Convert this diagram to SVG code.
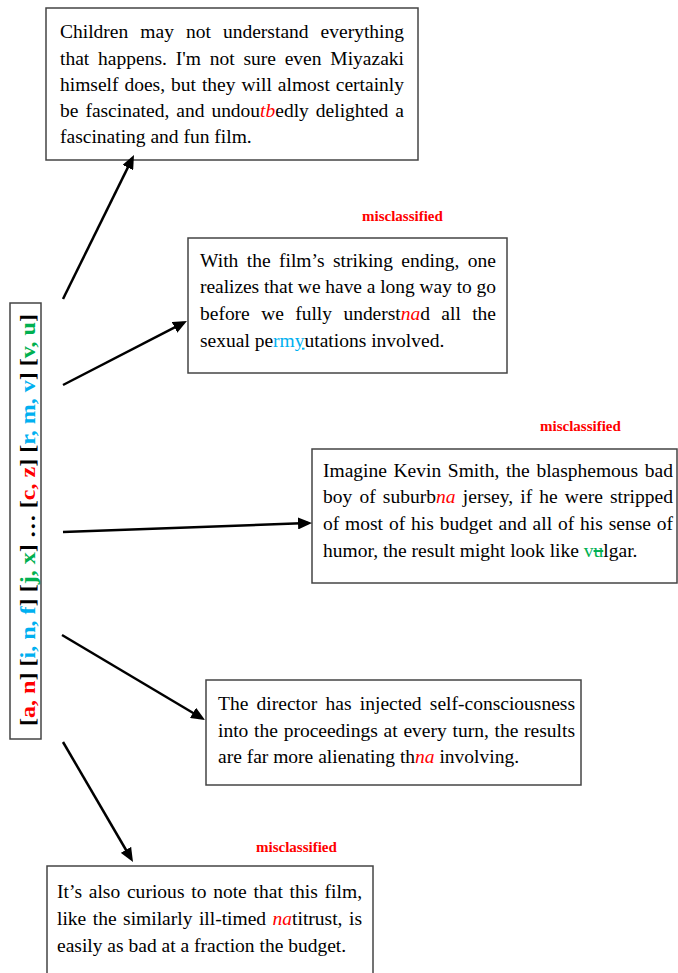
<svg xmlns="http://www.w3.org/2000/svg" width="678" height="973" viewBox="0 0 678 973">
<style>
.box{fill:#fff;stroke:#444;stroke-width:1.5}
.t{font-family:"Liberation Serif","Times New Roman",serif;font-size:19.5px;fill:#000}
.r{fill:#ff0000}
.b{fill:#00b0f0}
.g{fill:#00b050}
.it{font-style:italic}
.mis{font-family:"Liberation Serif","Times New Roman",serif;font-size:15px;font-weight:bold;fill:#ff0000}
.side{font-family:"Liberation Serif","Times New Roman",serif;font-size:21px;font-weight:bold;fill:#000}
.conn{stroke:#000;stroke-width:2.5;fill:none;marker-end:url(#ah)}
</style>
<defs>
<marker id="ah" markerUnits="userSpaceOnUse" markerWidth="15" markerHeight="12" refX="10" refY="6" orient="auto">
<path d="M0,0 L14,6 L0,12 z" fill="#000"/>
</marker>
</defs>

<g id="node-left">
<rect class="box" x="10" y="303" width="31" height="436"/>
<text class="side" transform="translate(35,726) rotate(-90)" x="0" y="0" textLength="412" lengthAdjust="spacingAndGlyphs">[<tspan class="r">a, n</tspan>] [<tspan class="b">i, n, f</tspan>] [<tspan class="g">j, x</tspan>] … [<tspan class="r">c, z</tspan>] [<tspan class="b">r, m, v</tspan>] [<tspan class="g">v, u</tspan>]</text>
</g>

<g id="node-1">
<rect class="box" x="46" y="8" width="372" height="152"/>
<text class="t" x="60" y="38.3" textLength="344" word-spacing="7.2">Children may not understand everything</text>
<text class="t" x="60" y="64.5" textLength="344" word-spacing="3.9">that happens. I'm not sure even Miyazaki</text>
<text class="t" x="60" y="90.8" textLength="344" word-spacing="1.1">himself does, but they will almost certainly</text>
<text class="t" x="60" y="117" textLength="344" word-spacing="2.1">be fascinated, and undou<tspan class="r it">tb</tspan>edly delighted a</text>
<text class="t" x="60" y="143.3">fascinating and fun film.</text>
</g>

<g id="node-2">
<text class="mis" x="362" y="221">misclassified</text>
<rect class="box" x="188" y="238" width="319" height="135"/>
<text class="t" x="200" y="266.7" textLength="296" word-spacing="3.3">With the film’s striking ending, one</text>
<text class="t" x="200" y="293.3" textLength="296">realizes that we have a long way to go</text>
<text class="t" x="200" y="320" textLength="296" word-spacing="6.5">before we fully underst<tspan class="r it">na</tspan>d all the</text>
<text class="t" x="200" y="346.7">sexual pe<tspan class="b">rm<tspan style="text-decoration:underline">y</tspan></tspan>utations involved.</text>
</g>

<g id="node-3">
<text class="mis" x="540" y="431">misclassified</text>
<rect class="box" x="312" y="449" width="365" height="134"/>
<text class="t" x="323" y="476.7" textLength="350" word-spacing="1.8">Imagine Kevin Smith, the blasphemous bad</text>
<text class="t" x="323" y="503.3" textLength="350" word-spacing="2.2">boy of suburb<tspan class="r it">na</tspan> jersey, if he were stripped</text>
<text class="t" x="323" y="530" textLength="350" word-spacing="1">of most of his budget and all of his sense of</text>
<text class="t" x="323" y="556.7">humor, the result might look like <tspan class="g">v<tspan style="text-decoration:line-through">u</tspan></tspan>lgar.</text>
</g>

<g id="node-4">
<rect class="box" x="206" y="680" width="375" height="105"/>
<text class="t" x="218" y="710" textLength="357" word-spacing="3.4">The director has injected self-consciousness</text>
<text class="t" x="218" y="736.7" textLength="357" word-spacing="0.9">into the proceedings at every turn, the results</text>
<text class="t" x="218" y="762.7">are far more alienating th<tspan class="r it">na</tspan> involving.</text>
</g>

<g id="node-5">
<text class="mis" x="256" y="852">misclassified</text>
<rect class="box" x="47" y="866" width="326" height="120"/>
<text class="t" x="57" y="898.3" textLength="305" word-spacing="1.8">It’s also curious to note that this film,</text>
<text class="t" x="57" y="925" textLength="305" word-spacing="1.6">like the similarly ill-timed <tspan class="r it">na</tspan>titrust, is</text>
<text class="t" x="57" y="951.7">easily as bad at a fraction the budget.</text>
</g>

<g id="connectors">
<line class="conn" x1="63" y1="299" x2="132.2" y2="158.6"/>
<line class="conn" x1="63" y1="385" x2="183.4" y2="322.8"/>
<line class="conn" x1="63" y1="532" x2="308" y2="523.1"/>
<line class="conn" x1="62" y1="635" x2="201.6" y2="718"/>
<line class="conn" x1="63" y1="742" x2="131" y2="858.5"/>
</g>
</svg>
